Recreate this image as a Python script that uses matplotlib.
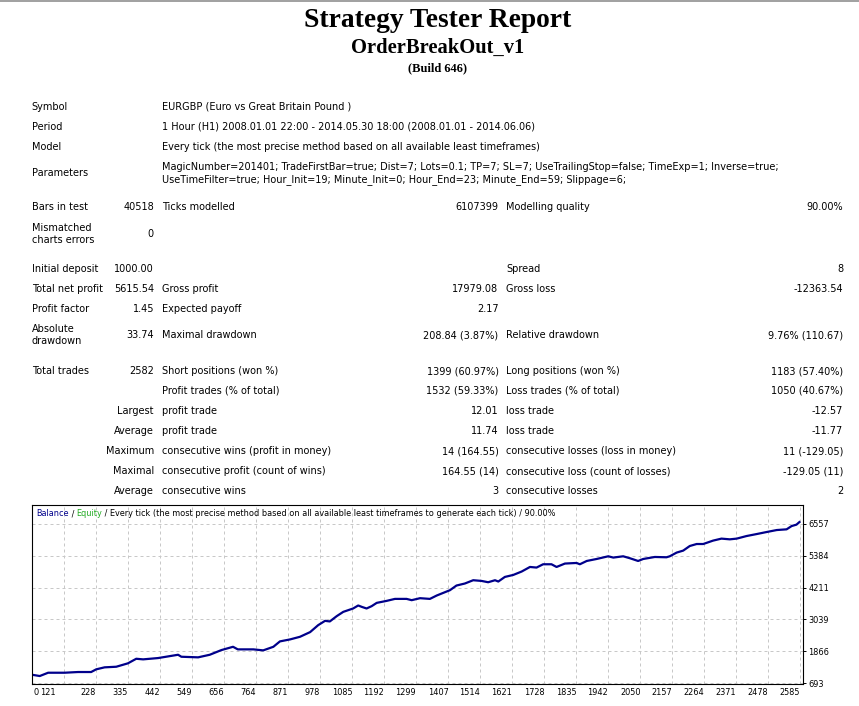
import matplotlib
matplotlib.use('Agg')
import matplotlib.pyplot as plt
from matplotlib.lines import Line2D
from matplotlib.transforms import ScaledTranslation

W, H = 859, 706
SANS = ['DejaVu Sans']
SERIF = ['Liberation Serif', 'DejaVu Serif']

# --- report text ---
title = 'Strategy Tester Report'
expert = 'OrderBreakOut_v1'
build = '(Build 646)'

info_labels = ['Symbol', 'Period', 'Model', 'Parameters']
info_values = [
    'EURGBP (Euro vs Great Britain Pound )',
    '1 Hour (H1) 2008.01.01 22:00 - 2014.05.30 18:00 (2008.01.01 - 2014.06.06)',
    'Every tick (the most precise method based on all available least timeframes)',
    'MagicNumber=201401; TradeFirstBar=true; Dist=7; Lots=0.1; TP=7; SL=7; UseTrailingStop=false; TimeExp=1; Inverse=true;\n'
    'UseTimeFilter=true; Hour_Init=19; Minute_Init=0; Hour_End=23; Minute_End=59; Slippage=6;',
]

# label, value, label2, value2, label3, value3  ('' = empty cell)
stat_rows = [
    ('Bars in test', '40518', 'Ticks modelled', '6107399', 'Modelling quality', '90.00%'),
    ('Mismatched\ncharts errors', '0', '', '', '', ''),
    ('Initial deposit', '1000.00', '', '', 'Spread', '8'),
    ('Total net profit', '5615.54', 'Gross profit', '17979.08', 'Gross loss', '-12363.54'),
    ('Profit factor', '1.45', 'Expected payoff', '2.17', '', ''),
    ('Absolute\ndrawdown', '33.74', 'Maximal drawdown', '208.84 (3.87%)', 'Relative drawdown', '9.76% (110.67)'),
    ('Total trades', '2582', 'Short positions (won %)', '1399 (60.97%)', 'Long positions (won %)', '1183 (57.40%)'),
    ('', '', 'Profit trades (% of total)', '1532 (59.33%)', 'Loss trades (% of total)', '1050 (40.67%)'),
    ('', 'Largest', 'profit trade', '12.01', 'loss trade', '-12.57'),
    ('', 'Average', 'profit trade', '11.74', 'loss trade', '-11.77'),
    ('', 'Maximum', 'consecutive wins (profit in money)', '14 (164.55)', 'consecutive losses (loss in money)', '11 (-129.05)'),
    ('', 'Maximal', 'consecutive profit (count of wins)', '164.55 (14)', 'consecutive loss (count of losses)', '-129.05 (11)'),
    ('', 'Average', 'consecutive wins', '3', 'consecutive losses', '2'),
]

# --- balance curve (trade number, balance) ---
trades = [0, 39, 67, 122, 167, 211, 228, 256, 295, 334, 362, 385, 435, 502, 513,
          569, 608, 647, 686, 702, 754, 787, 821, 843, 877, 910, 944, 971, 994,
          1010, 1033, 1055, 1088, 1105, 1117, 1133, 1150, 1167, 1200, 1228, 1267,
          1284, 1312, 1345, 1368, 1401, 1412, 1434, 1462, 1490, 1518, 1540, 1563,
          1574, 1596, 1624, 1652, 1680, 1702, 1724, 1752, 1769, 1797, 1836, 1847,
          1870, 1903, 1942, 1959, 1992, 2015, 2042, 2059, 2098, 2137, 2148, 2171,
          2193, 2215, 2238, 2260, 2293, 2321, 2349, 2372, 2405, 2439, 2472, 2506,
          2539, 2556, 2572, 2582]
balance = [1030, 960, 1081, 1081, 1107, 1107, 1206, 1279, 1301, 1426, 1594, 1572,
           1620, 1741, 1668, 1646, 1741, 1913, 2034, 1939, 1939, 1902, 2034, 2232,
           2305, 2401, 2573, 2829, 2987, 2965, 3159, 3317, 3441, 3551, 3500, 3441,
           3526, 3647, 3720, 3793, 3793, 3746, 3819, 3793, 3918, 4064, 4112, 4284,
           4358, 4479, 4453, 4405, 4479, 4431, 4600, 4673, 4797, 4966, 4944, 5065,
           5065, 4966, 5091, 5113, 5065, 5186, 5259, 5358, 5311, 5358, 5285, 5186,
           5259, 5333, 5322, 5358, 5494, 5567, 5736, 5809, 5809, 5934, 6007, 5981,
           6007, 6102, 6175, 6249, 6322, 6348, 6469, 6520, 6615]

y_ticks = [693, 1866, 3039, 4211, 5384, 6557]
x_labels = ['0', '121', '228', '335', '442', '549', '656', '764', '871', '978',
            '1085', '1192', '1299', '1407', '1514', '1621', '1728', '1835', '1942',
            '2050', '2157', '2264', '2371', '2478', '2585']
chart_caption = [('Balance', '#00008b'), (' / ', '#000000'), ('Equity', '#22aa22'),
                 (' / Every tick (the most precise method based on all available least '
                  'timeframes to generate each tick) / 90.00%', '#000000')]


def px(x, y):
    return x / W, 1 - y / H


fig = plt.figure(figsize=(W / 100, H / 100), dpi=100)
fig.patch.set_facecolor('white')
fig.add_artist(Line2D([0, 1], [1 - 1 / H] * 2, color='#a0a0a0', lw=1.4))

# titles
fig.text(*px(438, 26.7), title, family=SERIF, weight='bold', size=19.8, ha='center', va='baseline')
fig.text(*px(438, 53.3), expert, family=SERIF, weight='bold', size=14.8, ha='center', va='baseline')
fig.text(*px(437, 71.5), build, family=SERIF, weight='bold', size=9, ha='center', va='baseline')

FS = 7.0
col1, col2r, col2, col3r, col4, col5r = 31.7, 154, 161.7, 498.5, 506, 843
info_y = [106.7, 126.7, 146.7, 173.5]
stat_y = [206.7, 234, 269, 289, 309, 335, 371, 391, 411, 431, 451, 471, 491]

for lab, val, y in zip(info_labels, info_values, info_y):
    fig.text(*px(col1, y), lab, family=SANS, size=FS, va='center')
    fig.text(*px(col2, y), val, family=SANS, size=FS, va='center', linespacing=1.2)

for row, y in zip(stat_rows, stat_y):
    l1, v1, l2, v2, l3, v3 = row
    fig.text(*px(col1, y), l1, family=SANS, size=FS, va='center', linespacing=1.3)
    fig.text(*px(col2r, y), v1, family=SANS, size=FS, va='center', ha='right')
    fig.text(*px(col2, y), l2, family=SANS, size=FS, va='center')
    fig.text(*px(col3r, y), v2, family=SANS, size=FS, va='center', ha='right')
    fig.text(*px(col4, y), l3, family=SANS, size=FS, va='center')
    fig.text(*px(col5r, y), v3, family=SANS, size=FS, va='center', ha='right')

# --- balance chart ---
left, right, top, bottom = 32.3, 802.7, 505, 684.3
CS = 5.9
ax = fig.add_axes([left / W, 1 - bottom / H, (right - left) / W, (bottom - top) / H])
ax.plot(trades, balance, color='#00008b', lw=1.6)
ax.set_xlim(14, 2593)
ax.set_ylim(656, 7242)

grid_x = [float(v) for v in x_labels[1:]]
ax.set_xticks(grid_x, labels=x_labels[1:])
ax.set_yticks(y_ticks, labels=[str(v) for v in y_ticks])
ax.yaxis.tick_right()
ax.tick_params(axis='x', length=0, pad=2.5, labelsize=CS)
ax.tick_params(axis='y', length=2, width=0.7, pad=2, labelsize=CS)
for lab in ax.get_xticklabels():
    lab.set_family(SANS)
    lab.set_horizontalalignment('right')
for lab in ax.get_yticklabels():
    lab.set_family(SANS)
# the "121" label sits left of its grid line in the report
lab121 = ax.get_xticklabels()[0]
lab121.set_transform(lab121.get_transform() + ScaledTranslation(-8.8 / 100, 0, fig.dpi_scale_trans))
ax.text(0.001, -0.045, x_labels[0], transform=ax.transAxes, family=SANS, size=CS,
        ha='left', va='center')

ax.grid(True, color='#c8c8c8', lw=0.72, linestyle=(0, (3, 3)))
ax.set_axisbelow(True)
for sp in ax.spines.values():
    sp.set_linewidth(0.8)
    sp.set_color('black')

prev = ax.text(0.005, 0.95, chart_caption[0][0], color=chart_caption[0][1],
               transform=ax.transAxes, family=SANS, size=CS, va='center')
for s, c in chart_caption[1:]:
    prev = ax.annotate(s, xy=(1, 0), xycoords=prev, color=c, family=SANS,
                       size=CS, va='bottom', ha='left')

fig.savefig('out.png', dpi=100)
